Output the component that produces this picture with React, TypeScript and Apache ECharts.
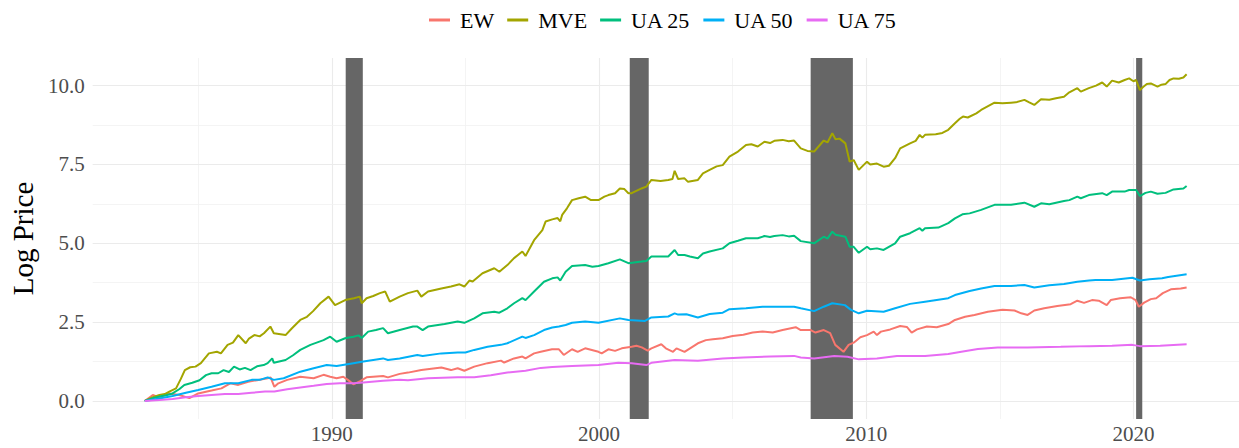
import React, { useEffect, useRef } from "react";
import * as echarts from "echarts";

const seriesNames = ["EW", "MVE", "UA 25", "UA 50", "UA 75"];
const seriesColors = ["#F8766D", "#A3A500", "#00BF7D", "#00B0F6", "#E76BF3"];

const ew: [number, number][] = [
  [1983.0, 0], [1983.3, 0.19], [1983.55, 0.11], [1983.92, 0.24], [1984.29, 0.19], [1984.67, 0.09],
  [1985.0, 0.24], [1985.5, 0.33], [1985.87, 0.4], [1986.2, 0.56], [1986.5, 0.51], [1986.87, 0.61],
  [1987.2, 0.66], [1987.6, 0.72], [1987.71, 0.75], [1987.85, 0.45], [1988.0, 0.56], [1988.33, 0.67],
  [1988.82, 0.77], [1989.32, 0.72], [1989.69, 0.83], [1989.94, 0.77], [1990.18, 0.72], [1990.43, 0.77],
  [1990.6, 0.67], [1990.81, 0.53], [1991.06, 0.63], [1991.3, 0.75], [1991.92, 0.79], [1992.1, 0.75],
  [1992.54, 0.86], [1992.85, 0.9], [1993.35, 0.98], [1994.1, 1.06], [1994.46, 0.98], [1994.71, 1.04],
  [1994.96, 0.96], [1995.33, 1.09], [1995.83, 1.2], [1996.33, 1.28], [1996.45, 1.22], [1996.82, 1.35],
  [1997.13, 1.41], [1997.25, 1.35], [1997.57, 1.51], [1997.82, 1.56], [1998.24, 1.64], [1998.5, 1.64],
  [1998.68, 1.46], [1998.99, 1.64], [1999.2, 1.56], [1999.48, 1.67], [1999.98, 1.56], [2000.1, 1.51],
  [2000.35, 1.64], [2000.6, 1.59], [2000.85, 1.67], [2001.22, 1.72], [2001.4, 1.75], [2001.6, 1.7],
  [2001.82, 1.6], [2001.96, 1.67], [2002.33, 1.8], [2002.5, 1.67], [2002.77, 1.56], [2002.9, 1.67],
  [2003.2, 1.56], [2003.7, 1.83], [2004.0, 1.93], [2004.26, 1.96], [2004.63, 1.99], [2005.0, 2.06],
  [2005.4, 2.1], [2005.75, 2.17], [2006.12, 2.2], [2006.5, 2.17], [2006.87, 2.25], [2007.36, 2.34],
  [2007.55, 2.25], [2007.92, 2.25], [2008.1, 2.17], [2008.41, 2.25], [2008.65, 2.15], [2008.84, 1.78],
  [2009.15, 1.56], [2009.34, 1.78], [2009.53, 1.85], [2009.78, 2.02], [2010.03, 2.09], [2010.28, 2.2],
  [2010.4, 2.09], [2010.55, 2.2], [2010.9, 2.27], [2011.27, 2.38], [2011.52, 2.35], [2011.7, 2.17],
  [2011.9, 2.27], [2012.27, 2.36], [2012.64, 2.34], [2013.07, 2.44], [2013.32, 2.57], [2013.7, 2.67],
  [2014.05, 2.73], [2014.55, 2.83], [2015.1, 2.89], [2015.55, 2.87], [2015.8, 2.78], [2016.04, 2.73],
  [2016.29, 2.87], [2016.66, 2.94], [2017.15, 3.01], [2017.65, 3.07], [2017.9, 3.18], [2018.15, 3.11],
  [2018.45, 3.2], [2018.7, 3.18], [2019.0, 3.04], [2019.15, 3.2], [2019.5, 3.26], [2019.9, 3.29],
  [2020.08, 3.2], [2020.2, 2.99], [2020.4, 3.12], [2020.65, 3.23], [2020.85, 3.26], [2021.1, 3.42],
  [2021.4, 3.54], [2021.77, 3.57], [2021.99, 3.6],
];

const mve: [number, number][] = [
  [1983.0, 0], [1983.3, 0.12], [1983.55, 0.19], [1983.75, 0.22], [1983.92, 0.3], [1984.17, 0.4],
  [1984.35, 0.7], [1984.5, 0.98], [1984.7, 1.07], [1984.9, 1.09], [1985.1, 1.2], [1985.4, 1.51],
  [1985.7, 1.56], [1985.85, 1.51], [1986.1, 1.78], [1986.3, 1.85], [1986.5, 2.09], [1986.78, 1.83],
  [1986.9, 1.98], [1987.1, 2.09], [1987.3, 2.05], [1987.46, 2.15], [1987.7, 2.36], [1987.83, 2.15],
  [1988.27, 2.09], [1988.5, 2.3], [1988.82, 2.57], [1989.07, 2.67], [1989.3, 2.85], [1989.57, 3.1],
  [1989.88, 3.31], [1990.12, 3.04], [1990.5, 3.2], [1990.83, 3.26], [1991.05, 3.31], [1991.12, 3.1],
  [1991.3, 3.26], [1991.55, 3.33], [1991.8, 3.42], [1992.0, 3.47], [1992.17, 3.15], [1992.54, 3.31],
  [1992.85, 3.42], [1993.2, 3.5], [1993.35, 3.31], [1993.6, 3.47], [1994.1, 3.57], [1994.46, 3.63],
  [1994.78, 3.7], [1994.96, 3.63], [1995.15, 3.82], [1995.27, 3.79], [1995.64, 4.05], [1996.08, 4.21],
  [1996.27, 4.1], [1996.57, 4.31], [1996.82, 4.53], [1997.13, 4.74], [1997.25, 4.6], [1997.57, 5.1],
  [1997.88, 5.42], [1998.0, 5.69], [1998.25, 5.76], [1998.45, 5.8], [1998.55, 5.7], [1998.62, 5.9],
  [1998.8, 6.11], [1998.99, 6.37], [1999.24, 6.43], [1999.48, 6.48], [1999.7, 6.37], [1999.98, 6.37],
  [2000.2, 6.48], [2000.35, 6.53], [2000.6, 6.59], [2000.78, 6.74], [2000.95, 6.72], [2001.1, 6.59],
  [2001.22, 6.59], [2001.59, 6.74], [2001.77, 6.8], [2001.96, 7.01], [2002.3, 6.98], [2002.59, 7.01],
  [2002.75, 7.04], [2002.83, 7.3], [2002.96, 7.04], [2003.2, 7.06], [2003.33, 6.95], [2003.7, 7.01],
  [2003.89, 7.22], [2004.14, 7.33], [2004.4, 7.44], [2004.63, 7.48], [2004.88, 7.75], [2005.2, 7.91],
  [2005.5, 8.12], [2005.7, 8.14], [2005.94, 8.07], [2006.19, 8.22], [2006.4, 8.18], [2006.56, 8.25],
  [2006.87, 8.28], [2007.1, 8.24], [2007.3, 8.26], [2007.55, 8.01], [2007.8, 7.93], [2008.05, 7.91],
  [2008.41, 8.26], [2008.55, 8.2], [2008.73, 8.49], [2008.85, 8.3], [2009.0, 8.32], [2009.22, 8.17],
  [2009.38, 7.59], [2009.53, 7.64], [2009.72, 7.33], [2010.03, 7.59], [2010.15, 7.5], [2010.4, 7.53],
  [2010.65, 7.43], [2010.85, 7.46], [2011.08, 7.7], [2011.27, 8.01], [2011.64, 8.17], [2011.85, 8.25],
  [2012.0, 8.44], [2012.1, 8.35], [2012.2, 8.44], [2012.6, 8.46], [2012.85, 8.5], [2013.07, 8.6],
  [2013.32, 8.81], [2013.5, 8.95], [2013.62, 9.02], [2013.8, 8.99], [2014.12, 9.12], [2014.3, 9.23],
  [2014.8, 9.46], [2015.1, 9.44], [2015.42, 9.46], [2015.6, 9.47], [2015.92, 9.55], [2016.1, 9.47],
  [2016.29, 9.39], [2016.54, 9.57], [2016.85, 9.55], [2017.1, 9.6], [2017.4, 9.65], [2017.6, 9.79],
  [2017.9, 9.92], [2018.03, 9.81], [2018.33, 9.92], [2018.6, 10.0], [2018.83, 10.1], [2019.0, 9.97],
  [2019.2, 10.16], [2019.45, 10.1], [2019.67, 10.18], [2019.84, 10.23], [2020.0, 10.14], [2020.1, 10.18],
  [2020.24, 9.86], [2020.35, 9.95], [2020.5, 10.05], [2020.65, 10.07], [2020.9, 9.97], [2021.05, 10.03],
  [2021.2, 10.05], [2021.35, 10.18], [2021.5, 10.23], [2021.7, 10.22], [2021.87, 10.26], [2021.99, 10.36],
];

const ua25: [number, number][] = [
  [1983.0, 0], [1983.3, 0.09], [1983.55, 0.14], [1983.8, 0.18], [1984.04, 0.24], [1984.3, 0.38],
  [1984.48, 0.51], [1984.78, 0.58], [1985.05, 0.66], [1985.29, 0.82], [1985.5, 0.88], [1985.75, 0.88],
  [1985.95, 0.98], [1986.15, 0.92], [1986.34, 1.09], [1986.55, 1.0], [1986.75, 1.05], [1986.96, 0.98],
  [1987.2, 1.1], [1987.45, 1.14], [1987.6, 1.2], [1987.77, 1.35], [1987.83, 1.21], [1988.27, 1.3],
  [1988.55, 1.45], [1988.82, 1.62], [1989.2, 1.78], [1989.69, 1.93], [1989.94, 2.04], [1990.18, 1.88],
  [1990.5, 1.99], [1990.81, 2.04], [1991.0, 2.08], [1991.12, 2.0], [1991.36, 2.2], [1991.65, 2.25],
  [1991.92, 2.31], [1992.1, 2.15], [1992.54, 2.25], [1993.04, 2.36], [1993.2, 2.36], [1993.4, 2.25],
  [1993.6, 2.36], [1994.22, 2.44], [1994.71, 2.52], [1994.96, 2.48], [1995.33, 2.62], [1995.64, 2.78],
  [1996.08, 2.83], [1996.27, 2.8], [1996.57, 2.94], [1996.82, 3.1], [1997.13, 3.26], [1997.25, 3.2],
  [1997.57, 3.47], [1997.94, 3.78], [1998.25, 3.89], [1998.45, 3.92], [1998.55, 3.82], [1998.75, 4.1],
  [1998.99, 4.28], [1999.48, 4.31], [1999.75, 4.26], [1999.98, 4.28], [2000.35, 4.37], [2000.78, 4.49],
  [2001.1, 4.37], [2001.59, 4.42], [2001.77, 4.44], [2001.96, 4.58], [2002.59, 4.58], [2002.83, 4.79],
  [2002.96, 4.63], [2003.2, 4.63], [2003.4, 4.58], [2003.7, 4.53], [2003.89, 4.68], [2004.14, 4.74],
  [2004.63, 4.84], [2004.88, 5.0], [2005.2, 5.08], [2005.5, 5.16], [2005.94, 5.16], [2006.19, 5.23],
  [2006.4, 5.2], [2006.56, 5.23], [2006.87, 5.26], [2007.1, 5.22], [2007.3, 5.24], [2007.55, 5.07],
  [2008.05, 5.0], [2008.41, 5.21], [2008.55, 5.15], [2008.73, 5.37], [2008.85, 5.27], [2009.22, 5.21],
  [2009.38, 4.89], [2009.53, 4.89], [2009.72, 4.7], [2010.03, 4.89], [2010.15, 4.81], [2010.4, 4.84],
  [2010.65, 4.79], [2011.08, 5.0], [2011.27, 5.21], [2011.64, 5.32], [2012.0, 5.48], [2012.1, 5.4],
  [2012.2, 5.48], [2012.7, 5.5], [2013.07, 5.64], [2013.32, 5.79], [2013.6, 5.92], [2013.87, 5.95],
  [2014.3, 6.06], [2014.8, 6.22], [2015.42, 6.22], [2015.92, 6.29], [2016.29, 6.16], [2016.54, 6.27],
  [2016.85, 6.24], [2017.4, 6.34], [2017.6, 6.37], [2017.9, 6.48], [2018.03, 6.43], [2018.33, 6.53],
  [2018.83, 6.59], [2019.0, 6.53], [2019.2, 6.64], [2019.67, 6.64], [2019.84, 6.69], [2020.1, 6.69],
  [2020.24, 6.5], [2020.45, 6.6], [2020.65, 6.64], [2020.9, 6.57], [2021.2, 6.6], [2021.5, 6.71],
  [2021.87, 6.74], [2021.99, 6.82],
];

const ua50: [number, number][] = [
  [1983.0, 0], [1983.55, 0.08], [1984.04, 0.16], [1984.54, 0.26], [1985.0, 0.35], [1985.5, 0.45],
  [1986.0, 0.56], [1986.5, 0.56], [1987.0, 0.67], [1987.3, 0.67], [1987.6, 0.75], [1987.83, 0.67],
  [1988.2, 0.72], [1988.82, 0.93], [1989.32, 1.04], [1989.81, 1.14], [1990.18, 1.11], [1990.81, 1.2],
  [1991.18, 1.25], [1991.92, 1.35], [1992.1, 1.3], [1992.54, 1.35], [1993.2, 1.46], [1993.4, 1.43],
  [1994.1, 1.51], [1994.71, 1.54], [1995.0, 1.54], [1995.33, 1.62], [1995.83, 1.72], [1996.33, 1.78],
  [1996.57, 1.83], [1997.13, 2.04], [1997.25, 2.0], [1997.57, 2.09], [1997.94, 2.25], [1998.25, 2.33],
  [1998.5, 2.36], [1998.75, 2.41], [1998.99, 2.48], [1999.48, 2.52], [1999.98, 2.48], [2000.78, 2.62],
  [2001.1, 2.57], [2001.72, 2.54], [2001.96, 2.65], [2002.59, 2.68], [2002.83, 2.78], [2002.96, 2.74],
  [2003.27, 2.75], [2003.7, 2.65], [2004.14, 2.76], [2004.63, 2.8], [2004.88, 2.91], [2005.5, 2.94],
  [2006.12, 2.99], [2006.87, 2.99], [2007.3, 2.99], [2007.55, 2.94], [2008.05, 2.85], [2008.41, 2.99],
  [2008.73, 3.1], [2009.2, 3.04], [2009.43, 2.89], [2009.72, 2.78], [2010.03, 2.86], [2010.65, 2.83],
  [2011.08, 2.94], [2011.64, 3.08], [2012.2, 3.15], [2013.07, 3.26], [2013.32, 3.36], [2013.87, 3.49],
  [2014.3, 3.57], [2014.8, 3.65], [2015.42, 3.65], [2015.92, 3.68], [2016.29, 3.6], [2016.85, 3.67],
  [2017.4, 3.71], [2017.9, 3.78], [2018.34, 3.82], [2018.58, 3.84], [2019.2, 3.84], [2019.96, 3.91],
  [2020.24, 3.82], [2020.6, 3.86], [2021.07, 3.89], [2021.3, 3.93], [2021.99, 4.02],
];

const ua75: [number, number][] = [
  [1983.0, 0], [1983.55, 0.03], [1984.04, 0.06], [1984.54, 0.12], [1985.0, 0.16], [1985.5, 0.19],
  [1986.0, 0.22], [1986.5, 0.22], [1987.0, 0.26], [1987.5, 0.3], [1987.85, 0.3], [1988.33, 0.37],
  [1988.82, 0.43], [1989.32, 0.48], [1989.81, 0.54], [1990.3, 0.56], [1990.81, 0.56], [1991.18, 0.59],
  [1991.92, 0.64], [1992.54, 0.67], [1992.85, 0.66], [1993.6, 0.72], [1994.71, 0.75], [1995.33, 0.75],
  [1995.95, 0.82], [1996.57, 0.9], [1997.25, 0.96], [1997.82, 1.05], [1998.25, 1.08], [1998.99, 1.11],
  [1999.98, 1.14], [2000.72, 1.21], [2001.22, 1.2], [2001.77, 1.14], [2001.96, 1.21], [2002.83, 1.3],
  [2003.7, 1.28], [2004.63, 1.35], [2005.4, 1.38], [2006.4, 1.41], [2007.3, 1.43], [2007.55, 1.38],
  [2008.05, 1.35], [2008.8, 1.43], [2009.3, 1.4], [2009.72, 1.32], [2010.4, 1.35], [2011.15, 1.43],
  [2012.2, 1.43], [2013.07, 1.49], [2013.56, 1.56], [2014.18, 1.65], [2014.92, 1.7], [2016.04, 1.7],
  [2017.28, 1.72], [2018.34, 1.74], [2019.2, 1.75], [2019.96, 1.78], [2020.24, 1.74], [2021.0, 1.75],
  [2021.99, 1.8],
];

const recessions: [number, number][] = [
  [1990.52, 1991.16],
  [2001.15, 2001.86],
  [2007.92, 2009.5],
  [2020.1, 2020.33],
];

const xLabelValues = [1990, 2000, 2010, 2020];
const xGridMajor = [1990, 2000, 2010, 2020];
const xGridMinor = [1985, 1995, 2005, 2015];
const yLabelValues = [0, 2.5, 5, 7.5, 10];
const yGridMinor = [1.25, 3.75, 6.25, 8.75];

const X_MIN = 1981.05;
const X_MAX = 2023.95;
const Y_MIN = -0.571;
const Y_MAX = 10.877;

const FONT = "'Liberation Serif', 'DejaVu Serif', serif";

export default function App() {
  const ref = useRef<HTMLDivElement>(null);

  useEffect(() => {
    if (!ref.current) return;
    const chart = echarts.init(ref.current, undefined, { renderer: "svg" });
    const dataSets = [ew, mve, ua25, ua50, ua75];

    const major = { color: "#ebebeb", width: 1.1, type: "solid" };
    const minor = { color: "#f1f1f1", width: 0.8, type: "solid" };
    const gridLineData: any[] = [
      ...xGridMajor.map((v) => ({ xAxis: v, lineStyle: major })),
      ...xGridMinor.map((v) => ({ xAxis: v, lineStyle: minor })),
      ...yLabelValues.map((v) => ({ yAxis: v, lineStyle: major })),
      ...yGridMinor.map((v) => ({ yAxis: v, lineStyle: minor })),
    ];

    chart.setOption({
      animation: false,
      backgroundColor: "#ffffff",
      textStyle: { fontFamily: FONT },
      legend: {
        data: seriesNames,
        top: 4,
        left: 424,
        itemWidth: 21,
        itemHeight: 3,
        itemGap: 13,
        icon: "rect",
        textStyle: {
          fontFamily: FONT,
          fontSize: 22,
          color: "#000000",
          padding: [0, 0, 0, 5],
        },
      },
      grid: {
        left: 88,
        top: 58,
        width: 1153,
        bottom: 29,
        containLabel: false,
      },
      xAxis: {
        type: "value",
        min: X_MIN,
        max: X_MAX,
        axisLine: { show: false },
        axisTick: { show: false },
        splitLine: { show: false },
        axisLabel: {
          customValues: xLabelValues,
          formatter: (v: number) => String(Math.round(v)),
          fontFamily: FONT,
          fontSize: 21,
          color: "#4d4d4d",
          margin: 4,
        },
      },
      yAxis: {
        type: "value",
        min: Y_MIN,
        max: Y_MAX,
        name: "Log Price",
        nameLocation: "middle",
        nameGap: 52,
        nameTextStyle: { fontFamily: FONT, fontSize: 29, color: "#000000" },
        axisLine: { show: false },
        axisTick: { show: false },
        splitLine: { show: false },
        axisLabel: {
          customValues: yLabelValues,
          formatter: (v: number) => v.toFixed(1),
          fontFamily: FONT,
          fontSize: 21,
          color: "#4d4d4d",
          margin: 8,
        },
      },
      series: [
        {
          name: "grid",
          type: "line",
          data: [],
          silent: true,
          z: 0,
          markLine: {
            silent: true,
            z: 0,
            symbol: ["none", "none"],
            label: { show: false },
            lineStyle: { type: "solid" },
            emphasis: { disabled: true },
            data: gridLineData,
          },
        },
        {
          name: "recession",
          type: "line",
          data: [],
          silent: true,
          z: 1,
          markArea: {
            silent: true,
            z: 1,
            itemStyle: { color: "#666666", opacity: 1 },
            emphasis: { disabled: true },
            label: { show: false },
            data: recessions.map(([a, b]) => [{ xAxis: a }, { xAxis: b }]),
          },
        },
        ...seriesNames.map((name, i) => ({
          name,
          type: "line",
          data: dataSets[i],
          showSymbol: false,
          symbol: "none",
          z: 3,
          color: seriesColors[i],
          lineStyle: { width: 2, color: seriesColors[i] },
          emphasis: { disabled: true },
        })),
      ],
    });

    return () => chart.dispose();
  }, []);

  return <div ref={ref} style={{ width: 1239, height: 448, position: "absolute", left: 0, top: 0 }} />;
}
